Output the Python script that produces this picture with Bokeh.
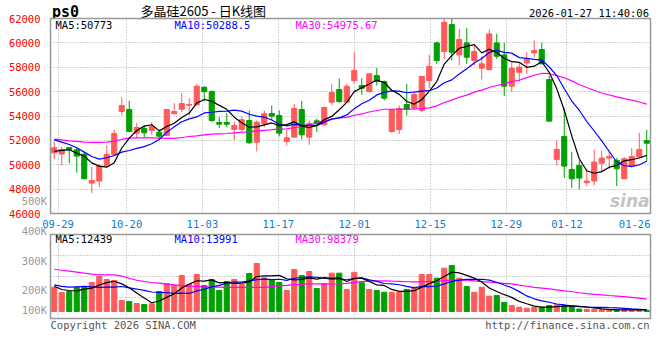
from bokeh.plotting import figure
from bokeh.models import Range1d, FixedTicker, Label, Grid, ColumnDataSource, GridBox
from bokeh.layouts import column
from bokeh.embed import file_html
from bokeh.resources import INLINE

# ---------------- data ----------------
dates = ["09-26", "09-29", "09-30", "10-09", "10-10", "10-13", "10-14", "10-15", "10-16", "10-17",
         "10-20", "10-21", "10-22", "10-23", "10-24", "10-27", "10-28", "10-29", "10-30", "10-31",
         "11-03", "11-04", "11-05", "11-06", "11-07", "11-10", "11-11", "11-12", "11-13", "11-14",
         "11-17", "11-18", "11-19", "11-20", "11-21", "11-24", "11-25", "11-26", "11-27", "11-28",
         "12-01", "12-02", "12-03", "12-04", "12-05", "12-08", "12-09", "12-10", "12-11", "12-12",
         "12-15", "12-16", "12-17", "12-18", "12-19", "12-22", "12-23", "12-24", "12-25", "12-26",
         "12-29", "12-30", "12-31", "01-05", "01-06", "01-07", "01-08", "01-09", "01-12", "01-13",
         "01-14", "01-15", "01-16", "01-19", "01-20", "01-21", "01-22", "01-23", "01-26", "01-27"]

opens = [50982, 50873, 51419, 51228, 50873, 48496, 48660, 49889, 50818, 54370,
         54534, 52594, 52976, 52813, 52676, 52403, 54179, 54561, 54889, 54916,
         56364, 56009, 53468, 53468, 52894, 52894, 53632, 51856, 53359, 54206,
         54042, 51911, 52266, 54534, 52266, 53605, 53277, 55134, 56173, 55135,
         56911, 56501, 56009, 57320, 56829, 52731, 52894, 54944, 54643, 54452,
         56911, 59998, 59287, 61500, 59014, 59998, 58550, 57921, 57812, 59998,
         59014, 56446, 57594, 58359, 59178, 59451, 56993, 50435, 52321, 49616,
         49944, 48523, 48660, 50135, 50545, 50354, 48851, 49889, 50627, 51993]
highs = [51911, 51501, 51446, 51419, 51037, 49807, 50080, 51611, 52867, 55545,
         55244, 53441, 53222, 53496, 52894, 54561, 55053, 55900, 55463, 56637,
         56419, 56091, 53905, 54233, 53550, 53960, 54452, 53632, 54452, 54862,
         54452, 52867, 54998, 55244, 53632, 53769, 54780, 56600, 57074, 56637,
         59233, 57101, 57539, 57949, 56911, 54534, 54862, 56637, 55900, 57238,
         59014, 60107, 61965, 62000, 61145, 61200, 59779, 58905, 61090, 60735,
         59998, 58413, 58413, 59233, 60189, 59998, 57320, 51993, 54670, 51037,
         50353, 49670, 51228, 51173, 51173, 50545, 50627, 51364, 52621, 52867]
lows = [50436, 49944, 50135, 49343, 48800, 47676, 48168, 49807, 50763, 54042,
        52676, 52184, 52266, 52457, 51993, 52348, 54151, 54315, 54042, 54862,
        55189, 53496, 53004, 53086, 51993, 52731, 51720, 51092, 53086, 53687,
        52321, 51583, 52266, 52075, 51638, 52676, 53222, 54900, 55080, 55080,
        56692, 55736, 55900, 56501, 55272, 52594, 52539, 54042, 54534, 54315,
        56282, 58277, 58686, 58550, 58140, 58277, 58140, 56992, 57730, 58687,
        55626, 55955, 56774, 57457, 58823, 58277, 53578, 49944, 48905, 48086,
        47950, 48250, 48305, 49397, 49670, 48250, 48851, 49752, 50545, 50272]
closes = [51392, 51255, 51255, 50709, 48851, 48714, 49889, 50845, 52566, 54862,
          52731, 53058, 52621, 53140, 52348, 54534, 54370, 55026, 54944, 56446,
          56009, 53632, 53332, 53332, 53222, 53687, 51802, 53496, 54179, 53987,
          52594, 52211, 54616, 52457, 53386, 53359, 54698, 55927, 55189, 56446,
          57730, 56282, 57457, 56829, 55462, 54534, 54589, 54534, 55763, 57238,
          58058, 58550, 61692, 59233, 60271, 58823, 59287, 58277, 60735, 58905,
          56446, 57921, 58003, 58686, 59369, 58277, 53578, 51255, 49889, 48851,
          48905, 48660, 50217, 50545, 50681, 49670, 50490, 50681, 51255, 51769]

ma5 = [51091, 51173, 51227, 50954, 50692, 50157, 49884, 49802, 50173, 51375,
       52179, 52812, 53168, 53282, 52780, 53140, 53403, 53884, 54244, 55064,
       55359, 55211, 54873, 54550, 53905, 53441, 53075, 53108, 53277, 53430,
       53212, 53293, 53517, 53173, 53053, 53206, 53703, 53965, 54512, 55124,
       55998, 56315, 56621, 56949, 56752, 56113, 55774, 55190, 54976, 55332,
       56036, 56829, 58260, 58954, 59561, 59714, 59861, 59178, 59479, 59205,
       58730, 58457, 58402, 57992, 58085, 58451, 57583, 56233, 54474, 52370,
       50496, 49512, 49304, 49436, 49802, 49955, 50321, 50413, 50555, 50773]
ma10 = [52047, 51856, 51664, 51391, 51036, 50681, 50462, 50572, 50763, 51034,
        51168, 51348, 51485, 51728, 52078, 52660, 53108, 53526, 53763, 53922,
        54250, 54307, 54379, 54397, 54485, 54400, 54143, 53991, 53914, 53668,
        53327, 53184, 53313, 53225, 53242, 53209, 53498, 53741, 53843, 54089,
        54602, 55009, 55293, 55731, 55938, 56056, 56045, 55906, 55963, 56042,
        56075, 56302, 56725, 56965, 57447, 57875, 58345, 58719, 59217, 59383,
        59222, 59159, 58790, 58736, 58645, 58591, 58020, 57318, 56233, 55228,
        54474, 53548, 52769, 51955, 51086, 50226, 49917, 49859, 49996, 50288.5]
ma30 = [52102, 52048, 51966, 51911, 51856, 51829, 51829, 51856, 51938, 52075,
        52184, 52211, 52211, 52211, 52184, 52157, 52157, 52238, 52320, 52375,
        52457, 52512, 52539, 52566, 52621, 52676, 52703, 52758, 52813, 52874,
        52915, 52946, 53058, 53117, 53268, 53423, 53583, 53752, 53840, 53893,
        54059, 54167, 54328, 54451, 54555, 54555, 54562, 54546, 54573, 54599,
        54668, 54832, 55110, 55307, 55542, 55713, 55963, 56122, 56340, 56504,
        56633, 56823, 56936, 57144, 57343, 57507, 57470, 57314, 57137, 56884,
        56590, 56336, 56095, 55885, 55726, 55564, 55427, 55299, 55148, 54975.67]

volumes = [192000, 150000, 158000, 192000, 192000, 229000, 276500, 253000, 245000, 87000,
           79000, 63000, 55000, 61000, 158000, 221000, 205000, 284000, 213000, 292000,
           205000, 253000, 166000, 237000, 253000, 213000, 300000, 379000, 266000, 253000,
           229000, 166000, 332000, 284000, 316000, 182000, 221000, 303000, 303000, 174000,
           310000, 227000, 174000, 166000, 152000, 152000, 152000, 174000, 192000, 292000,
           292000, 263000, 342000, 363000, 263000, 198000, 152000, 192000, 121000, 126000,
           73000, 47000, 34000, 26000, 34000, 32000, 47000, 53000, 47000, 42000,
           19000, 17000, 15000, 14000, 13000, 13000, 12500, 12000, 16000, 8700]
vol_ma5 = [200000, 174000, 166000, 163000, 176800, 184200, 209500, 228500, 239100, 218100,
           188100, 145400, 105800, 69000, 83200, 111600, 140000, 185800, 216200, 243000,
           239800, 249400, 225800, 230600, 222800, 224400, 233800, 276400, 282200, 282200,
           285400, 258600, 249200, 252800, 265400, 256000, 267000, 261200, 265000, 236600,
           262200, 263400, 237600, 210200, 205800, 174200, 159200, 159200, 164400, 192400,
           220400, 242600, 276200, 310400, 304600, 285800, 263600, 233600, 185200, 157800,
           132800, 111800, 80200, 61200, 42800, 34600, 34600, 38400, 42600, 44200,
           41600, 35600, 28000, 21400, 15600, 14400, 13500, 12900, 13300, 12439]
vol_ma10 = [211000, 198000, 192000, 195000, 198000, 195000, 190000, 192000, 192000, 197500,
            186200, 177500, 167200, 154100, 150700, 149900, 142700, 145800, 142600, 163100,
            175700, 194700, 205800, 223400, 232900, 232100, 241600, 251100, 256400, 252500,
            254900, 246200, 262800, 267500, 273800, 270700, 262800, 255200, 258900, 251000,
            259100, 265200, 249400, 237600, 221200, 218200, 211300, 198400, 187300, 199100,
            197300, 200900, 217700, 237400, 248500, 253100, 253100, 254900, 247800, 231200,
            209300, 187700, 156900, 123200, 100300, 83700, 73200, 59300, 51900, 43500,
            38100, 35100, 33200, 32000, 29900, 28000, 24600, 20500, 17400, 13991]
vol_ma30 = [334000, 326000, 319000, 311000, 303000, 295000, 290000, 290000, 290000, 279000,
            263000, 247000, 237000, 229000, 224000, 216000, 211000, 205000, 200000, 198000,
            195000, 192000, 192000, 190000, 190000, 190000, 190000, 190000, 190000, 197000,
            202000, 206000, 211900, 215000, 219100, 217600, 215700, 217400, 219300, 222200,
            229900, 235400, 239300, 242800, 242600, 240300, 238600, 234900, 234200, 234200,
            237100, 237400, 243300, 247500, 247800, 247300, 242400, 236200, 231300, 227100,
            221900, 217900, 208000, 199400, 190000, 185000, 179200, 170900, 162300, 157900,
            148200, 141200, 135900, 130900, 126200, 121600, 116950, 111600, 105700, 98379]

date_labels = ["09-29", "10-20", "11-03", "11-17", "12-01", "12-15", "12-29", "01-12", "01-26"]
price_ticks = [46000, 48000, 50000, 52000, 54000, 56000, 58000, 60000, 62000]
vol_tick_labels = ["500K", "400K", "300K", "200K", "100K"]

title_code = "ps0"
title_name = "多晶硅2605 - 日K线图"
timestamp = "2026-01-27 11:40:06"

# ---------------- styling ----------------
RED = "#ff5a5a"
GREEN = "#00a000"
MONO = "DejaVu Sans Mono"
GRID = "#a8a8a8"
FRAME = "#999999"
W, H = 660, 360


def fmt(v):
    return f"{v:.2f}".rstrip("0").rstrip(".")


n = len(dates)
idx = list(range(n))
colors = [RED if c >= o else GREEN for o, c in zip(opens, closes)]
src = ColumnDataSource(dict(
    x=idx, high=highs, low=lows,
    top=[max(o, c) for o, c in zip(opens, closes)],
    bottom=[min(o, c) for o, c in zip(opens, closes)],
    color=colors, vol=volumes,
    ma5=ma5, ma10=ma10, ma30=ma30,
    vma5=vol_ma5, vma10=vol_ma10, vma30=vol_ma30,
))

x_range = Range1d(-0.5, n - 0.5)
FRAME_W = 600.0
px = FRAME_W / n  # pixels per slot

# Sina spaces its date grid over n-1 slots; a label that would leave the frame is pulled in
label_pos, grid_pos, overrides = [], [], {}
for lab_txt in date_labels:
    i = dates.index(lab_txt)
    pos = i * n / (n - 1) - 0.5
    half = (len(lab_txt) * 6.3 / 2) / px
    if pos + half > n - 0.5:
        pos = n - 0.5 - half - 0.01
    else:
        grid_pos.append(pos)
    label_pos.append(pos)
    overrides[pos] = lab_txt


def lab(p, text, x, y, color="#000000", size="10.5px", font=MONO, align="left", style="normal"):
    p.add_layout(Label(x=x, y=y, x_units="screen", y_units="screen", text=text,
                       text_color=color, text_font=font, text_font_size=size,
                       text_align=align, text_baseline="middle", text_font_style=style))


# ---------------- transparent under-layer for the texts outside the two frames ----------------
ov = figure(width=W, height=H, x_range=Range1d(0, W), y_range=Range1d(0, H),
            x_axis_type=None, y_axis_type=None, output_backend="svg", toolbar_location=None,
            min_border_left=0, min_border_right=0, min_border_top=0, min_border_bottom=0)
ov.background_fill_color = "white"
ov.border_fill_color = "white"
ov.outline_line_color = None

lab(ov, title_code, 51.5, H - 11, size="15px", style="bold")
lab(ov, title_name, 140, H - 10, size="13px", font="Noto Sans CJK SC")
lab(ov, timestamp, 648.5, H - 12.3, align="right")
K_Y = [200.7, 230.7, 260.3, 289.3, 309.3]
for t, ky in zip(vol_tick_labels, K_Y):
    lab(ov, t, 46.5, H - ky, color="#999999", align="right")
lab(ov, "Copyright 2026 SINA.COM", 50, H - 324, color="#555555")
lab(ov, "http://finance.sina.com.cn", 649, H - 324, color="#555555", align="right")

# ---------------- price panel ----------------
p1 = figure(width=W, height=233, x_range=x_range, y_range=Range1d(price_ticks[0], price_ticks[-1]),
            output_backend="svg", toolbar_location=None,
            min_border_left=50, min_border_right=10, min_border_top=18, min_border_bottom=20)
p1.background_fill_color = "white"
p1.border_fill_color = None
p1.outline_line_color = FRAME
p1.outline_line_width = 1.5

p1.yaxis.ticker = FixedTicker(ticks=price_ticks)
p1.yaxis.major_label_text_color = "#ff0000"
p1.yaxis.major_label_text_font = MONO
p1.yaxis.major_label_text_font_size = "10.5px"
p1.yaxis.major_label_standoff = 4
p1.yaxis.major_tick_line_color = None
p1.yaxis.minor_tick_line_color = None
p1.yaxis.axis_line_color = None

p1.xaxis.ticker = FixedTicker(ticks=label_pos)
p1.xaxis.major_label_overrides = overrides
p1.xaxis.major_label_text_color = "#0b80d0"
p1.xaxis.major_label_text_font = MONO
p1.xaxis.major_label_text_font_size = "10.5px"
p1.xaxis.major_label_standoff = 6
p1.xaxis.major_tick_out = 0
p1.xaxis.major_tick_in = 0
p1.xaxis.major_tick_line_color = None
p1.xaxis.minor_tick_line_color = None
p1.xaxis.axis_line_color = None

p1.xgrid.ticker = FixedTicker(ticks=grid_pos)
p1.ygrid.ticker = FixedTicker(ticks=price_ticks[1:-1])
for g in (p1.xgrid, p1.ygrid):
    g.grid_line_color = GRID
    g.grid_line_dash = "1 2"
    g.grid_line_width = 1

p1.segment(x0="x", y0="low", x1="x", y1="high", source=src, line_color="color", line_width=1)
p1.vbar(x="x", top="top", bottom="bottom", width=0.68, source=src,
        fill_color="color", line_color="color", line_width=1)
p1.line(x="x", y="ma30", source=src, line_color="#ff00ff", line_width=1.2)
p1.line(x="x", y="ma10", source=src, line_color="#0000ff", line_width=1.2)
p1.line(x="x", y="ma5", source=src, line_color="#000000", line_width=1.2)

lab(p1, "MA5:" + fmt(ma5[-1]), 5, 189)
lab(p1, "MA10:" + fmt(ma10[-1]), 124, 189, color="#0000ff")
lab(p1, "MA30:" + fmt(ma30[-1]), 245, 189, color="#ff00ff")
lab(p1, "sina", 599, 13, color="#c4c4c4", size="17px", font="DejaVu Sans", style="bold italic", align="right")

# ---------------- volume panel ----------------
VOL_PX = 7900.0  # volume per pixel
vol_lo, vol_hi = -7.0 * VOL_PX, 77.0 * VOL_PX
p2 = figure(width=W, height=127, x_range=x_range, y_range=Range1d(vol_lo, vol_hi),
            x_axis_type=None, y_axis_type=None,
            output_backend="svg", toolbar_location=None,
            min_border_left=50, min_border_right=10, min_border_top=1, min_border_bottom=42)
p2.background_fill_color = "white"
p2.border_fill_color = None
p2.outline_line_color = FRAME
p2.outline_line_width = 1.5

vol_grid = [vol_lo + (vol_hi - vol_lo) * f for f in (0.25, 0.5, 0.75)]
p2.add_layout(Grid(dimension=0, ticker=FixedTicker(ticks=grid_pos),
                   grid_line_color=GRID, grid_line_dash="1 2"))
p2.add_layout(Grid(dimension=1, ticker=FixedTicker(ticks=vol_grid),
                   grid_line_color=GRID, grid_line_dash="1 2"))

p2.vbar(x="x", top="vol", bottom=0, width=0.68, source=src,
        fill_color="color", line_color="color", line_width=1)
p2.line(x="x", y="vma30", source=src, line_color="#ff00ff", line_width=1.2)
p2.line(x="x", y="vma10", source=src, line_color="#0000ff", line_width=1.2)
p2.line(x="x", y="vma5", source=src, line_color="#000000", line_width=1.2)

lab(p2, "MA5:" + fmt(vol_ma5[-1]), 5, 79.5)
lab(p2, "MA10:" + fmt(vol_ma10[-1]), 124, 79.5, color="#0000ff")
lab(p2, "MA30:" + fmt(vol_ma30[-1]), 245, 79.5, color="#ff00ff")

panels = column(p1, p2, spacing=0)
layout = GridBox(children=[(ov, 0, 0), (panels, 0, 0)])
open("out.html", "w").write(file_html(layout, INLINE))
